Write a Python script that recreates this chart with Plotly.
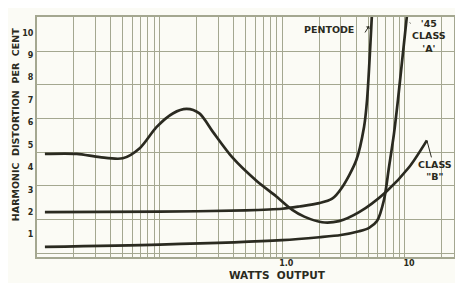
import math
import plotly.graph_objects as go

# ---- data (watts output, harmonic distortion %) ----
class_b_w = [0.0116, 0.0211, 0.0325, 0.05, 0.0688, 0.0946, 0.128, 0.166, 0.211, 0.27,
             0.39, 0.615, 0.894, 1.206, 1.51, 2.11, 2.9, 4.23, 7.0, 10.8, 15.1]
class_b_pct = [4.6, 4.6, 4.45, 4.4, 4.85, 5.8, 6.4, 6.6, 6.4, 5.6,
               4.45, 3.4, 2.7, 2.1, 1.8, 1.55, 1.6, 2.0, 2.9, 4.0, 5.2]

pentode_w = [0.0116, 0.1, 0.5, 1.0, 1.375, 2.0, 2.55, 3.07, 4.0, 4.64, 4.91, 5.39]
pentode_pct = [2.0, 2.02, 2.08, 2.15, 2.25, 2.4, 2.6, 3.1, 4.3, 5.8, 7.0, 10.9]

classa_w = [0.0116, 0.1, 1.0, 2.0, 3.0, 4.23, 5.1, 5.92, 6.75, 7.41, 8.14, 8.77, 10.4]
classa_pct = [0.45, 0.55, 0.75, 0.88, 0.98, 1.15, 1.3, 1.6, 2.55, 4.0, 5.5, 7.0, 10.8]

# x grid at 1..9 of each decade, labels only at 1.0 and 10
x_decades = [0.01, 0.1, 1, 10]
x_mult = [1, 2, 3, 4, 5, 6, 7, 8, 9]
x_labels = {1: "1.0", 10: "10"}
y_ticks = [1, 2, 3, 4, 5, 6, 7, 8, 9, 10]

INK = "#2a2a20"
GRID = "#a4a790"
BG = "#fbfbf5"
FONT = "DejaVu Sans, sans-serif"

# page body adds 8px margin; plot area in figure pixels
W, H = 455, 275
PL, PR, PT, PB = 29, 447, 7, 249

def px(xp):  # figure-pixel x -> paper
    return (xp - PL) / (PR - PL)

def py(yp):  # figure-pixel y -> paper
    return (PB - yp) / (PB - PT)

x_tickvals = [d * m for d in x_decades for m in x_mult if d * m <= 25]
x_ticktext = ["<b>%s</b>" % x_labels[v] if v in x_labels else "" for v in x_tickvals]

fig = go.Figure()
for xs, ys in [(class_b_w, class_b_pct), (pentode_w, pentode_pct), (classa_w, classa_pct)]:
    fig.add_trace(go.Scatter(x=xs, y=ys, mode="lines",
                             line=dict(color=INK, width=2.7, shape="spline", smoothing=0.8),
                             hoverinfo="skip", showlegend=False))

fig.update_xaxes(type="log", range=[-2, 1.4], tickvals=x_tickvals, ticktext=x_ticktext,
                 showgrid=True, gridcolor=GRID, gridwidth=1.2, ticks="",
                 showline=True, mirror=True, linecolor=GRID, linewidth=2,
                 ticklabelstandoff=-3, ticklabelshift=4,
                 tickfont=dict(family=FONT, size=8, color=INK), zeroline=False)
fig.update_yaxes(range=[0, 10.7], tickvals=y_ticks,
                 ticktext=["<b>%d</b>" % v for v in y_ticks],
                 showgrid=False, ticks="", zeroline=False,
                 minor=dict(tick0=0.17, dtick=1.5, showgrid=True, gridcolor=GRID, gridwidth=1.2, ticks=""),
                 showline=True, mirror=True, linecolor=GRID, linewidth=2,
                 tickfont=dict(family=FONT, size=8, color=INK))

ann_font = dict(family=FONT, size=9.5, color=INK)
fig.add_annotation(text="<b>PENTODE</b>", xref="paper", yref="paper",
                   x=px(322), y=py(20), xanchor="center", yanchor="middle",
                   showarrow=False, font=ann_font)
fig.add_annotation(x=math.log10(5.1), y=10.3, ax=-5, ay=8, text="", showarrow=True,
                   arrowhead=1, arrowsize=0.8, arrowwidth=1, arrowcolor=INK)
fig.add_annotation(text="<b>'45<br>CLASS<br>'A'</b>", x=math.log10(10.6), y=10.5, ax=21, ay=15,
                   showarrow=True, arrowhead=0, arrowwidth=1, arrowcolor=INK, font=ann_font,
                   standoff=2)
fig.add_annotation(text="<b>CLASS<br>\"B\"</b>", x=math.log10(15.1), y=5.2, ax=8, ay=30,
                   showarrow=True, arrowhead=0, arrowwidth=1, arrowcolor=INK, font=ann_font)

# axis titles
fig.add_annotation(text="<b>WATTS  OUTPUT</b>", xref="paper", yref="paper",
                   x=px(270), y=py(275), xanchor="center", yanchor="bottom", showarrow=False,
                   font=dict(family=FONT, size=10.5, color=INK))
fig.add_annotation(text="<b>HARMONIC  DISTORTION  PER  CENT</b>", xref="paper", yref="paper",
                   x=px(7), y=py(116), xanchor="center", yanchor="middle",
                   textangle=-90, showarrow=False,
                   font=dict(family=FONT, size=9.5, color=INK))

fig.update_layout(width=W, height=H, margin=dict(l=PL, r=W - PR, t=PT, b=H - PB),
                  paper_bgcolor=BG, plot_bgcolor=BG, showlegend=False)

fig.write_html("out.html")
